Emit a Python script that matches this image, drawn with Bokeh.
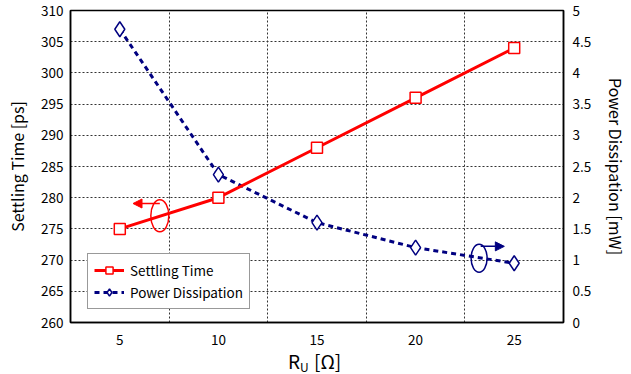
from bokeh.plotting import figure
from bokeh.layouts import column
from bokeh.models import (Range1d, LinearAxis, FixedTicker, Legend, LegendItem,
                          Arrow, NormalHead)
from bokeh.core.properties import value
from bokeh.embed import file_html
from bokeh.resources import INLINE

# ---- data ----
r_u = [5, 10, 15, 20, 25]
settling_time = [275, 280, 288, 296, 304]
power_dissipation = [4.7, 2.37, 1.6, 1.2, 0.95]

x_ticks = [5, 10, 15, 20, 25]
x_grid_ticks = [7.5, 12.5, 17.5, 22.5]
left_ticks = [260, 265, 270, 275, 280, 285, 290, 295, 300, 305, 310]
right_ticks = [0, 0.5, 1, 1.5, 2, 2.5, 3, 3.5, 4, 4.5, 5]
right_tick_labels = ["0", "0.5", "1", "1.5", "2", "2.5", "3", "3.5", "4", "4.5", "5"]

# annotation anchors (rotation arrows)
red_arrow_x = [7.03, 5.67]
red_arrow_y = 279.07
red_loop_x, red_loop_y = 7.03, 277.1
blue_arrow_x = [23.3, 24.5]
blue_arrow_y = 1.22
blue_loop_x, blue_loop_y = 23.22, 1.03

# x-axis title pieces: R, subscript U, [Ω]
xlabel_parts = ["R", "U", "[Ω]"]

FONT = "Noto Sans CJK JP"
RED = "#FF0000"
NAVY = "#000080"

p = figure(width=631, height=348, x_range=Range1d(2.5, 27.5), y_range=Range1d(260, 310),
           output_backend="svg", toolbar_location=None,
           min_border_left=70, min_border_right=64, min_border_top=10, min_border_bottom=26)
p.background_fill_color = "white"
p.border_fill_color = "white"
p.outline_line_color = "black"
p.outline_line_width = 1.5

p.extra_y_ranges = {"pw": Range1d(0, 5)}

# axes
p.xaxis.ticker = FixedTicker(ticks=x_ticks)
p.yaxis.ticker = FixedTicker(ticks=left_ticks)
p.yaxis.axis_label = "Settling Time [ps]"

right_axis = LinearAxis(y_range_name="pw", ticker=FixedTicker(ticks=right_ticks),
                        major_label_overrides={t: l for t, l in zip(right_ticks, right_tick_labels)},
                        axis_label="Power Dissipation [mW]")
p.add_layout(right_axis, "right")

for ax in [p.xaxis[0], p.yaxis[0], right_axis]:
    ax.major_tick_in = 0
    ax.major_tick_out = 0
    ax.minor_tick_in = 0
    ax.minor_tick_out = 0
    ax.axis_line_color = "black"
    ax.axis_line_width = 1.5
    ax.major_label_text_font = FONT
    ax.major_label_text_font_size = "13.5px"
    ax.major_label_text_color = "black"
    ax.axis_label_text_font = FONT
    ax.axis_label_text_font_size = "16px"
    ax.axis_label_text_font_style = "normal"
    ax.axis_label_text_color = "black"

p.xaxis.major_label_standoff = 12
p.yaxis[0].major_label_standoff = 7
p.yaxis[0].axis_label_standoff = 9
right_axis.major_label_standoff = 9
right_axis.axis_label_standoff = 10

# grid
p.xgrid.ticker = FixedTicker(ticks=x_grid_ticks)
p.ygrid.ticker = FixedTicker(ticks=left_ticks)
for g in [p.xgrid[0], p.ygrid[0]]:
    g.grid_line_color = "#333333"
    g.grid_line_dash = "2 2"
    g.grid_line_width = 1

# series
bl = p.line(r_u, power_dissipation, y_range_name="pw", line_color=NAVY, line_width=3,
            line_dash="5 4")
bs = p.scatter(r_u, power_dissipation, y_range_name="pw", marker="diamond", size=15,
               fill_color="white", line_color=NAVY, line_width=1.5)
rl = p.line(r_u, settling_time, line_color=RED, line_width=3)
rs = p.scatter(r_u, settling_time, marker="square", size=11, fill_color="white",
               line_color=RED, line_width=1.5)

# rotation arrows
p.add_layout(Arrow(end=NormalHead(size=9, fill_color=RED, line_color=RED),
                   x_start=red_arrow_x[0], y_start=red_arrow_y,
                   x_end=red_arrow_x[1], y_end=red_arrow_y,
                   line_color=RED, line_width=1.5))
p.ellipse(x=[red_loop_x], y=[red_loop_y], width=18, height=32,
          width_units="screen", height_units="screen",
          fill_color=None, line_color=RED, line_width=1.5)
p.add_layout(Arrow(end=NormalHead(size=9, fill_color=NAVY, line_color=NAVY),
                   x_start=blue_arrow_x[0], y_start=blue_arrow_y,
                   x_end=blue_arrow_x[1], y_end=blue_arrow_y, y_range_name="pw",
                   line_color=NAVY, line_width=1.5))
p.ellipse(x=[blue_loop_x], y=[blue_loop_y], width=16, height=28, y_range_name="pw",
          width_units="screen", height_units="screen",
          fill_color=None, line_color=NAVY, line_width=1.5)

legend = Legend(items=[LegendItem(label="Settling Time", renderers=[rl, rs]),
                       LegendItem(label="Power Dissipation", renderers=[bl, bs])],
                location=(17, 13))
legend.label_text_font = FONT
legend.label_text_font_size = "13.5px"
legend.label_text_color = "black"
legend.border_line_color = "#333333"
legend.border_line_width = 1.5
legend.background_fill_color = "white"
legend.background_fill_alpha = 1
legend.glyph_width = 30
legend.glyph_height = 18
legend.padding = 6
legend.spacing = 2
legend.label_standoff = 6
legend.margin = 0
p.add_layout(legend)

# strip below holding the x-axis title with a real subscript
t = figure(width=631, height=26, x_range=p.x_range, y_range=Range1d(0, 26),
           x_axis_type=None, y_axis_type=None,
           output_backend="svg", toolbar_location=None,
           min_border_left=70, min_border_right=64, min_border_top=0, min_border_bottom=0)
t.grid.visible = False
t.outline_line_color = None
t.background_fill_color = "white"
t.border_fill_color = "white"
t.text(x=[15], y=[14], text=[xlabel_parts[0]], x_offset=-29, text_font=value(FONT),
       text_font_size="19px", text_color="black", text_baseline="middle", text_align="left")
t.text(x=[15], y=[8], text=[xlabel_parts[1]], x_offset=-17, text_font=value(FONT),
       text_font_size="12px", text_color="black", text_baseline="middle", text_align="left")
t.text(x=[15], y=[14], text=[xlabel_parts[2]], x_offset=-3, text_font=value(FONT),
       text_font_size="19px", text_color="black", text_baseline="middle", text_align="left")

layout = column(p, t, spacing=0)
open("out.html", "w").write(file_html(layout, INLINE))
